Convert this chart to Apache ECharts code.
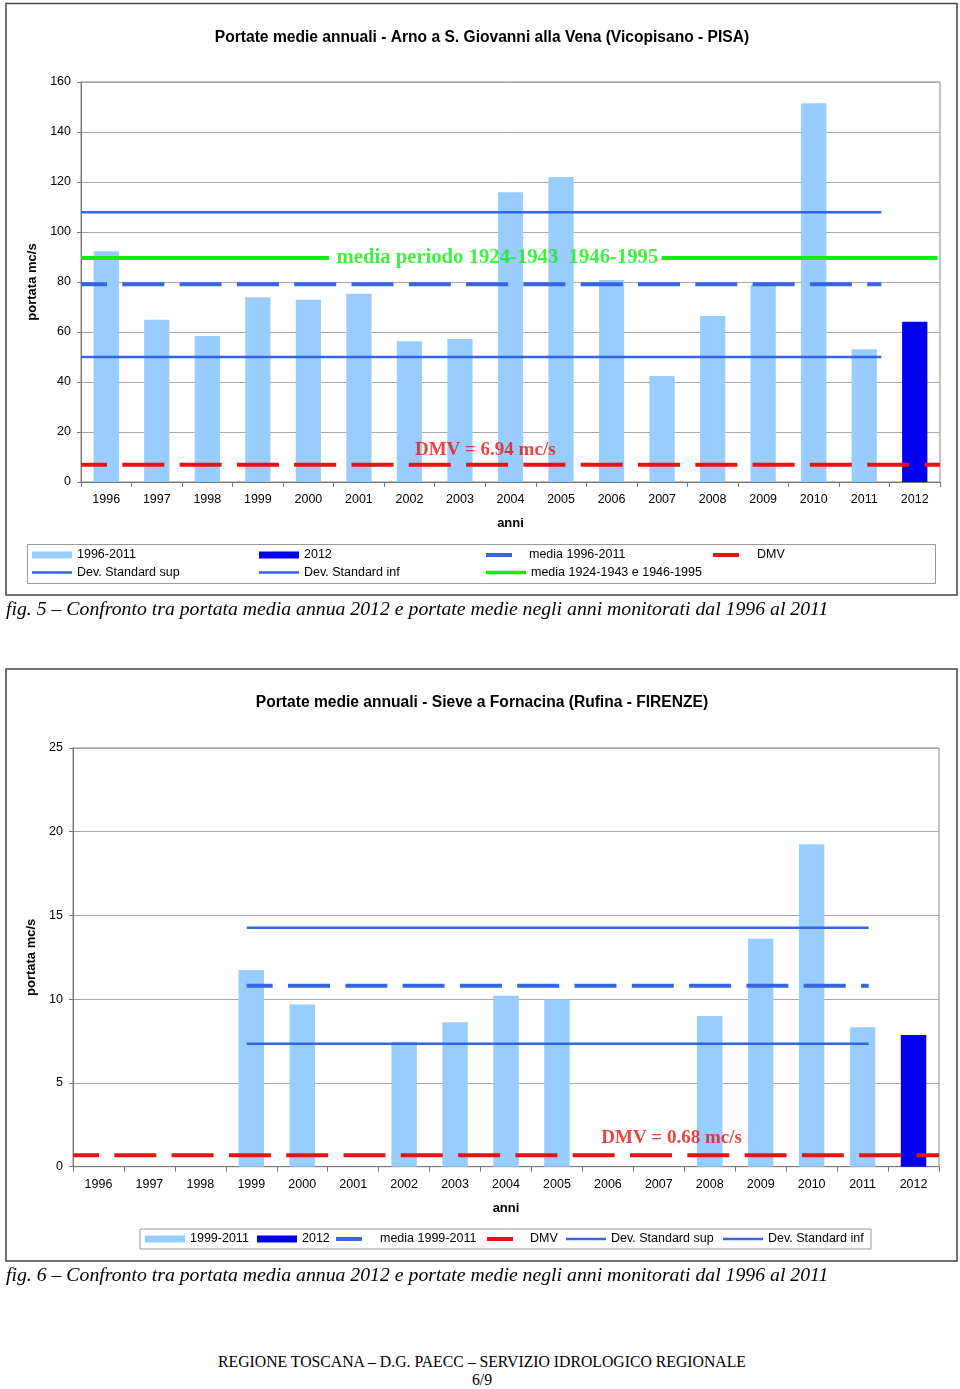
<!DOCTYPE html>
<html><head><meta charset="utf-8">
<script src="https://cdn.jsdelivr.net/npm/echarts@6.0.0/dist/echarts.min.js"></script>
<style>
html,body{margin:0;padding:0;background:#fff;width:960px;height:1389px;overflow:hidden;position:relative}
#c1{position:absolute;left:0;top:0;width:960px;height:600px}
#c2{position:absolute;left:0;top:660px;width:960px;height:610px}
.cap{position:absolute;left:6px;font-family:"Liberation Serif","Times New Roman",serif;font-style:italic;font-size:19.75px;line-height:20px;white-space:nowrap;color:#000}
.foot{position:absolute;left:0;width:964px;text-align:center;font-family:"Liberation Serif","Times New Roman",serif;font-size:15.75px;line-height:17px;color:#000;white-space:nowrap}
</style></head>
<body>
<div id="c1"></div>
<div id="c2"></div>
<div class="cap" style="top:598px">fig. 5 – Confronto tra portata media annua 2012 e portate medie negli anni monitorati dal 1996 al 2011</div>
<div class="cap" style="top:1264px">fig. 6 – Confronto tra portata media annua 2012 e portate medie negli anni monitorati dal 1996 al 2011</div>
<div class="foot" style="top:1353px">REGIONE TOSCANA – D.G. PAECC – SERVIZIO IDROLOGICO REGIONALE</div>
<div class="foot" style="top:1371px">6/9</div>
<script>
// ---------- DATA ----------
const years = ['1996','1997','1998','1999','2000','2001','2002','2003','2004','2005','2006','2007','2008','2009','2010','2011','2012'];

// Arno a S. Giovanni alla Vena
const arnoTitle = 'Portate medie annuali - Arno a S. Giovanni alla Vena (Vicopisano - PISA)';
const arno1996_2011 = [92.3, 64.9, 58.4, 73.9, 72.9, 75.3, 56.3, 57.2, 115.9, 122.0, 80.8, 42.4, 66.4, 78.8, 151.5, 53.1, null];
const arno2012 = [null, null, null, null, null, null, null, null, null, null, null, null, null, null, null, null, 64.1];
const arnoMedia = 79.1;
const arnoDevSup = 107.9;
const arnoDevInf = 50.0;
const arnoMediaStorica = 89.6;
const arnoDMV = 6.94;
const arnoLineFrom = 1995.5, arnoLineTo = 2011.34;
const arnoGreenSegments = [[1995.5, 2000.41], [2006.99, 2012.45]];
const arnoDmvFrom = 1995.5, arnoDmvTo = 2012.5;
const arnoGreenLabel = {text: 'media periodo 1924-1943  1946-1995', x: 2003.74, y: 89.6};
const arnoDmvLabel = {text: 'DMV = 6.94 mc/s', x: 2003.5, y: 12.8};
const arnoYTicks = {min: 0, max: 160, interval: 20};

// Sieve a Fornacina
const sieveTitle = 'Portate medie annuali - Sieve a Fornacina (Rufina - FIRENZE)';
const sieve1999_2011 = [null, null, null, 11.74, 9.69, null, 7.46, 8.62, 10.21, 9.99, null, null, 9.0, 13.61, 19.25, 8.32, null];
const sieve2012 = [null, null, null, null, null, null, null, null, null, null, null, null, null, null, null, null, 7.86];
const sieveMedia = 10.81;
const sieveDevSup = 14.27;
const sieveDevInf = 7.34;
const sieveDMV = 0.68;
const sieveLineFrom = 1998.91, sieveLineTo = 2011.12;
const sieveDmvFrom = 1995.5, sieveDmvTo = 2012.5;
const sieveDmvLabel = {text: 'DMV = 0.68 mc/s', x: 2007.25, y: 1.70};
const sieveYTicks = {min: 0, max: 25, interval: 5};

// ---------- STYLE ----------
const SANS = '"Liberation Sans", Arial, sans-serif';
const SERIF = '"Liberation Serif", "Times New Roman", serif';
const C_LIGHT = '#99CCFF', C_DARK = '#0000F0', C_BLUE = '#3366E0', C_GREEN = '#10EE10', C_RED = '#EE1010';

const seg = (a, b, v) => [[a, v], [b, v]];
const toBar = arr => arr.map(v => v == null ? '-' : v);

function leg(name, left, top, w, h, color, pad) {
  return {
    left: left, top: top, itemWidth: w, itemHeight: h, icon: 'rect', padding: 0, itemGap: 0,
    selectedMode: false,
    data: [{name: name, icon: 'rect', itemStyle: {color: color, borderWidth: 0}}],
    itemStyle: {borderWidth: 0},
    textStyle: {fontFamily: SANS, fontSize: 12.5, color: '#000', lineHeight: 14, padding: pad ? [0, 0, 0, pad] : 0}
  };
}

function baseAxes(yTicks, yGap, labelMargin, nameGap) {
  return {
    xAxis: [{
      type: 'category', data: years, gridIndex: 0, boundaryGap: true,
      name: 'anni', nameLocation: 'middle', nameGap: nameGap,
      nameTextStyle: {fontFamily: SANS, fontSize: 13, fontWeight: 'bold', color: '#000'},
      axisLine: {lineStyle: {color: '#777', width: 1}},
      axisTick: {show: true, alignWithLabel: false, length: 5, lineStyle: {color: '#777'}},
      axisLabel: {fontFamily: SANS, fontSize: 12.5, color: '#000', margin: labelMargin, interval: 0},
      splitLine: {show: false}
    }, {
      type: 'value', gridIndex: 0, min: 1995.5, max: 2012.5, show: false, position: 'bottom'
    }],
    yAxis: [{
      type: 'value', min: yTicks.min, max: yTicks.max, interval: yTicks.interval,
      name: 'portata mc/s', nameLocation: 'middle', nameGap: yGap, nameRotate: 90,
      nameTextStyle: {fontFamily: SANS, fontSize: 13, fontWeight: 'bold', color: '#000'},
      axisLine: {show: true, lineStyle: {color: '#777', width: 1}},
      axisTick: {show: true, length: 4, lineStyle: {color: '#777'}},
      axisLabel: {fontFamily: SANS, fontSize: 12.5, color: '#000', margin: 10},
      splitLine: {show: true, lineStyle: {color: '#A8A8A8', width: 1}}
    }]
  };
}

function lineSeries(name, data, color, width, dashed) {
  return {
    name: name, type: 'line', xAxisIndex: 1, yAxisIndex: 0, data: data,
    symbol: 'none', silent: true, animation: false, connectNulls: false,
    itemStyle: {color: color},
    lineStyle: dashed ? {color: color, width: width, type: [42, 15.3], dashOffset: 16, cap: 'butt'}
                      : {color: color, width: width, type: 'solid'},
    z: 5
  };
}

function labelSeries(lbl, color, size) {
  return {
    type: 'scatter', xAxisIndex: 1, yAxisIndex: 0, symbolSize: 0, silent: true, animation: false,
    data: [[lbl.x, lbl.y]], z: 6,
    label: {show: true, position: 'inside', formatter: lbl.text, fontFamily: SERIF, fontWeight: 'bold', fontSize: size, color: color}
  };
}

function frame(x1, y1, x2, y2, lx1, ly1, lx2, ly2) {
  return [
    {type: 'rect', shape: {x: x1, y: y1, width: x2 - x1, height: y2 - y1}, style: {fill: 'none', stroke: '#444', lineWidth: 1.5}, silent: true, z: 0},
    {type: 'rect', shape: {x: lx1, y: ly1, width: lx2 - lx1, height: ly2 - ly1}, style: {fill: 'none', stroke: '#999', lineWidth: 1}, silent: true, z: 0}
  ];
}

// ---------- CHART 1 ----------
const ch1 = echarts.init(document.getElementById('c1'), null, {renderer: 'canvas'});
const ax1 = baseAxes(arnoYTicks, 36, 11, 34.5);
const greenData = [];
arnoGreenSegments.forEach((s, i) => {
  if (i > 0) greenData.push([s[0], '-']);
  greenData.push([s[0], arnoMediaStorica], [s[1], arnoMediaStorica]);
});
ch1.setOption({
  animation: false,
  backgroundColor: 'transparent',
  title: {text: arnoTitle, left: 482, top: 29, textAlign: 'center', padding: 0,
    textStyle: {fontFamily: SANS, fontSize: 15.6, fontWeight: 'bold', color: '#000', lineHeight: 18}},
  grid: {left: 81, top: 82, width: 859, height: 400, show: true, borderColor: '#888', borderWidth: 1, containLabel: false},
  xAxis: ax1.xAxis, yAxis: ax1.yAxis,
  legend: [
    leg('1996-2011', 32, 548, 40, 7, C_LIGHT, 0),
    leg('2012', 259, 548, 40, 7, C_DARK, 0),
    leg('media 1996-2011', 486, 548, 26, 4, C_BLUE, 12),
    leg('DMV', 713, 548, 26, 4, C_RED, 13),
    leg('Dev. Standard sup', 32, 565.5, 40, 2.5, C_BLUE, 0),
    leg('Dev. Standard inf', 259, 565.5, 40, 2.5, C_BLUE, 0),
    leg('media 1924-1943 e 1946-1995', 486, 565.5, 40, 3.5, C_GREEN, 0)
  ],
  graphic: frame(6, 3.5, 957, 595, 27.5, 544.5, 935.5, 583.5),
  series: [
    {name: '1996-2011', type: 'bar', data: toBar(arno1996_2011), barWidth: '50%', barGap: '-100%', itemStyle: {color: C_LIGHT}, silent: true, z: 2},
    {name: '2012', type: 'bar', data: toBar(arno2012), barWidth: '50%', barGap: '-100%', itemStyle: {color: C_DARK}, silent: true, z: 2},
    lineSeries('Dev. Standard sup', seg(arnoLineFrom, arnoLineTo, arnoDevSup), C_BLUE, 2.6, false),
    lineSeries('Dev. Standard inf', seg(arnoLineFrom, arnoLineTo, arnoDevInf), C_BLUE, 2.6, false),
    lineSeries('media 1924-1943 e 1946-1995', greenData, C_GREEN, 4, false),
    lineSeries('media 1996-2011', seg(arnoLineFrom, arnoLineTo, arnoMedia), C_BLUE, 4, true),
    lineSeries('DMV', seg(arnoDmvFrom, arnoDmvTo, arnoDMV), C_RED, 4, true),
    labelSeries(arnoGreenLabel, C_GREEN, 20.7),
    labelSeries(arnoDmvLabel, C_RED, 19)
  ]
});

// ---------- CHART 2 ----------
const ch2 = echarts.init(document.getElementById('c2'), null, {renderer: 'canvas'});
const ax2 = baseAxes(sieveYTicks, 28, 11.8, 34.8);
ch2.setOption({
  animation: false,
  backgroundColor: 'transparent',
  title: {text: sieveTitle, left: 482, top: 34, textAlign: 'center', padding: 0,
    textStyle: {fontFamily: SANS, fontSize: 15.6, fontWeight: 'bold', color: '#000', lineHeight: 18}},
  grid: {left: 73, top: 88, width: 866, height: 418.7, show: true, borderColor: '#888', borderWidth: 1, containLabel: false},
  xAxis: ax2.xAxis, yAxis: ax2.yAxis,
  legend: [
    leg('1999-2011', 145, 572, 40, 7, C_LIGHT, 0),
    leg('2012', 257, 572, 40, 7, C_DARK, 0),
    leg('media 1999-2011', 336, 572, 26, 4, C_BLUE, 13),
    leg('DMV', 487, 572, 26, 4, C_RED, 12),
    leg('Dev. Standard sup', 566, 572, 40, 2.5, C_BLUE, 0),
    leg('Dev. Standard inf', 723, 572, 40, 2.5, C_BLUE, 0)
  ],
  graphic: frame(6, 9, 957, 601, 140, 569, 871, 589),
  series: [
    {name: '1999-2011', type: 'bar', data: toBar(sieve1999_2011), barWidth: '50%', barGap: '-100%', itemStyle: {color: C_LIGHT}, silent: true, z: 2},
    {name: '2012', type: 'bar', data: toBar(sieve2012), barWidth: '50%', barGap: '-100%', itemStyle: {color: C_DARK}, silent: true, z: 2},
    lineSeries('Dev. Standard sup', seg(sieveLineFrom, sieveLineTo, sieveDevSup), C_BLUE, 2.6, false),
    lineSeries('Dev. Standard inf', seg(sieveLineFrom, sieveLineTo, sieveDevInf), C_BLUE, 2.6, false),
    lineSeries('media 1999-2011', seg(sieveLineFrom, sieveLineTo, sieveMedia), C_BLUE, 4, true),
    lineSeries('DMV', seg(sieveDmvFrom, sieveDmvTo, sieveDMV), C_RED, 4, true),
    labelSeries(sieveDmvLabel, C_RED, 19)
  ]
});
</script>
</body></html>
